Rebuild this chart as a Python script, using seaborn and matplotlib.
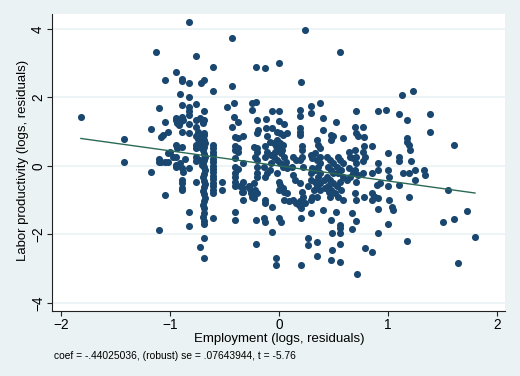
import matplotlib
matplotlib.use("Agg")
from matplotlib import pyplot as plt
import seaborn as sns
import pandas as pd

# regression summary printed under the plot
coef = -0.44025036
se = 0.07643944
tstat = -5.76

band_far_left = [(-1.82, 1.42), (-1.42, 0.80), (-1.42, 0.10), (-1.18, 1.08), (-1.18, -0.17),
                 (-1.13, 3.32), (-1.10, 1.69), (-1.10, -1.87), (-1.10, 0.19), (-1.08, 0.12),
                 (-1.05, 0.12), (-1.02, 0.12), (-1.10, 0.10), (-1.05, 2.50), (-1.05, 1.27),
                 (-1.07, 0.91), (-1.08, 0.84), (-1.05, -0.85), (-1.02, 1.00), (-1.02, 0.37)]

band_minus_one = [(-0.95, 2.73), (-0.89, 2.55), (-0.89, 2.48), (-0.91, 2.09), (-0.89, 1.78),
                  (-0.95, 1.41), (-0.89, 1.44), (-0.95, 1.34), (-0.91, 1.29), (-0.88, 1.34),
                  (-0.94, 1.24), (-0.95, 0.61), (-0.94, 0.52), (-1.00, 0.42), (-0.97, 0.27),
                  (-0.95, 0.27), (-0.95, 0.03), (-0.91, 0.08), (-0.89, -0.07), (-0.88, -0.17),
                  (-0.95, -0.02), (-0.89, 0.56), (-0.89, 1.00), (-0.89, -0.41), (-0.89, -0.51),
                  (-0.89, -0.65), (-0.89, -0.70), (-0.83, 2.42), (-0.83, 2.00), (-0.83, 1.73),
                  (-0.83, 1.59), (-0.83, 1.49), (-0.83, 1.23), (-0.83, 0.96), (-0.83, -0.07),
                  (-0.83, -1.34), (-0.83, -1.75), (-0.83, 4.20), (-0.92, 1.20), (-0.86, 0.20)]

band_minus_07 = [(-0.76, 3.20), (-0.76, 1.81), (-0.72, 2.42), (-0.69, 2.50), (-0.76, 1.35),
                 (-0.73, 1.40), (-0.71, 1.33), (-0.69, 1.35), (-0.70, 1.25), (-0.76, 1.15),
                 (-0.74, 1.00), (-0.73, 0.91), (-0.76, 0.86), (-0.71, 0.86), (-0.69, 0.91),
                 (-0.73, 0.71), (-0.76, 0.61), (-0.73, 0.56), (-0.70, 0.56), (-0.76, 0.52),
                 (-0.76, 0.27), (-0.73, 0.18), (-0.76, 0.13), (-0.71, 0.03), (-0.76, -0.46),
                 (-0.73, -2.36), (-0.69, -2.11), (-0.69, -2.70), (-0.69, 1.59),
                 (-0.61, 2.89), (-0.61, 2.20), (-0.61, -1.53), (-0.74, 0.78), (-0.72, 0.64)]

# the two stacked columns left of zero
column_069 = [(-0.69, 0.96), (-0.70, 0.86), (-0.69, 0.76), (-0.68, 0.66), (-0.69, 0.56),
              (-0.70, 0.46), (-0.69, 0.36), (-0.68, 0.27), (-0.69, 0.17), (-0.70, 0.07),
              (-0.69, -0.03), (-0.68, -0.13), (-0.69, -0.23), (-0.70, -0.33), (-0.69, -0.43),
              (-0.68, -0.53), (-0.69, -0.63), (-0.70, -0.73), (-0.69, -0.83), (-0.68, -0.93),
              (-0.69, -1.03), (-0.70, -1.14), (-0.69, -1.24), (-0.69, -1.37), (-0.70, -1.50),
              (-0.69, -1.60), (-0.69, -1.70)]
column_061 = [(-0.61, 0.61), (-0.61, 0.51), (-0.61, 0.41), (-0.61, 0.31), (-0.61, 0.21),
              (-0.61, 0.11), (-0.61, 0.01), (-0.61, -0.09), (-0.61, -0.19), (-0.61, -0.29),
              (-0.61, -0.39), (-0.61, -0.49), (-0.61, -0.59), (-0.61, -0.69), (-0.61, -0.80)]

band_minus_04 = [(-0.52, -0.46), (-0.52, -0.70), (-0.48, 1.73), (-0.435, 3.73), (-0.435, 2.34),
                 (-0.435, 1.15), (-0.41, 1.83), (-0.41, 1.44), (-0.38, 1.29), (-0.40, 0.85),
                 (-0.38, 0.81), (-0.40, 0.57), (-0.38, 0.52), (-0.40, 0.47), (-0.38, 0.42),
                 (-0.40, 0.22), (-0.40, -0.02), (-0.40, -0.21), (-0.40, -0.31), (-0.40, -0.46),
                 (-0.40, -0.60), (-0.40, -1.34), (-0.40, -1.58), (-0.33, 0.86), (-0.33, 0.08),
                 (-0.33, -0.46), (-0.33, -0.65), (-0.33, -0.75), (-0.33, -0.99), (-0.36, -0.60),
                 (-0.34, -0.75), (-0.38, -0.10)]

band_minus_02 = [(-0.245, 1.85), (-0.21, 1.88), (-0.21, 2.88), (-0.13, 2.87), (-0.245, 1.64),
                 (-0.20, 1.35), (-0.19, 1.05), (-0.20, 0.96), (-0.23, 0.56), (-0.20, 0.52),
                 (-0.20, 0.42), (-0.22, 0.27), (-0.20, 0.18), (-0.20, -0.02), (-0.20, -0.21),
                 (-0.20, -0.31), (-0.28, -0.60), (-0.26, -0.80), (-0.25, -0.90), (-0.23, -0.95),
                 (-0.22, -0.70), (-0.23, -0.51), (-0.20, -0.80), (-0.21, -1.58), (-0.21, -2.29),
                 (-0.13, -1.00), (-0.13, -1.09), (-0.12, 1.36), (-0.12, 1.10), (-0.11, 0.86),
                 (-0.13, 0.57), (-0.11, 0.42), (-0.13, 0.27), (-0.14, -0.02), (-0.11, -0.21),
                 (-0.13, -0.31), (-0.14, -1.53), (-0.13, -1.63), (-0.06, -1.94), (-0.06, -1.19),
                 (-0.06, 1.60), (-0.24, -0.75), (-0.27, -0.68)]

band_zero = [(0.00, 3.02), (0.00, 1.60), (0.00, 1.30), (0.05, 1.23), (-0.06, 1.10),
             (-0.02, 1.00), (0.01, 0.96), (0.04, 0.91), (0.07, 0.96), (-0.08, 0.71),
             (-0.05, 0.66), (-0.02, 0.76), (0.01, 0.66), (0.04, 0.61), (-0.01, 0.52),
             (-0.04, 0.42), (-0.07, 0.32), (0.02, 0.37), (0.05, 0.27), (-0.05, 0.27),
             (-0.02, 0.18), (0.01, 0.08), (0.04, -0.02), (0.07, -0.07), (-0.07, 0.08),
             (-0.08, -0.12), (-0.02, -0.21), (0.00, -0.46), (0.01, -0.56), (0.04, -0.65),
             (0.05, -0.75), (0.07, -0.80), (0.00, -0.70), (-0.03, -2.70), (-0.03, -2.89),
             (0.00, -1.53), (0.02, -1.63), (0.05, -1.00), (0.09, -1.04), (0.03, 0.47),
             (-0.03, 0.57), (0.06, 0.12)]

band_plus_02 = [(0.205, 2.44), (0.24, 3.97), (0.19, 1.64), (0.19, 1.46), (0.29, 1.74),
                (0.29, 1.54), (0.19, 1.10), (0.19, 1.00), (0.19, 0.91), (0.21, 0.57),
                (0.21, 0.47), (0.21, 0.27), (0.19, 0.18), (0.22, -0.02), (0.13, 0.27),
                (0.16, 0.18), (0.12, -0.02), (0.13, -0.26), (0.15, -0.41), (0.19, -0.51),
                (0.21, -0.75), (0.22, -0.90), (0.21, -1.09), (0.19, -1.04), (0.24, -1.09),
                (0.13, -1.00), (0.16, -1.07), (0.18, -1.14), (0.20, -1.24), (0.20, -1.53),
                (0.20, -2.89), (0.27, -2.12), (0.27, -2.31), (0.29, -1.38), (0.30, -0.07),
                (0.29, -0.21), (0.29, -0.41), (0.27, -0.60), (0.32, -0.70), (0.30, -0.90),
                (0.29, -0.99), (0.29, 0.32), (0.30, 0.22)]

band_plus_04 = [(0.38, 1.85), (0.40, 1.39), (0.40, 1.05), (0.35, 0.76), (0.36, 0.61),
                (0.38, 0.52), (0.33, 0.37), (0.38, 0.27), (0.35, 0.18), (0.38, 0.08),
                (0.36, -0.02), (0.33, -0.12), (0.38, -0.21), (0.36, -0.31), (0.33, -0.46),
                (0.38, -0.51), (0.35, -0.60), (0.38, -0.70), (0.35, -0.90), (0.40, -1.29),
                (0.35, -2.21), (0.35, -2.63), (0.48, 0.91), (0.48, 0.76), (0.50, 0.86),
                (0.44, 0.27), (0.47, 0.18), (0.50, 0.08), (0.45, -0.02), (0.48, -0.12),
                (0.50, -0.21), (0.44, -0.31), (0.47, -0.41), (0.50, -0.51), (0.45, -0.60),
                (0.48, -0.70), (0.51, -0.80), (0.47, -0.90), (0.48, -1.58), (0.49, -1.97),
                (0.49, -2.46), (0.48, -2.75), (0.52, 1.27), (0.52, -1.34), (0.42, -0.65),
                (0.46, -0.75), (0.41, -0.40)]

band_plus_06 = [(0.56, 3.32), (0.54, 0.27), (0.56, 0.18), (0.59, 0.08), (0.53, -0.02),
                (0.57, -0.12), (0.54, -0.21), (0.59, -0.31), (0.56, -0.46), (0.53, -0.60),
                (0.57, -0.70), (0.54, -0.90), (0.59, -0.99), (0.56, -1.73), (0.56, -1.82),
                (0.56, -1.97), (0.56, -2.29), (0.56, -2.81), (0.59, 0.81), (0.64, 0.42),
                (0.65, 0.27), (0.68, 0.22), (0.64, -0.07), (0.65, -0.31), (0.68, -0.21),
                (0.67, -1.38), (0.67, -1.85), (0.71, 1.60), (0.70, 1.15), (0.71, 0.96),
                (0.73, 0.86), (0.70, 0.47), (0.71, 0.27), (0.71, 0.08), (0.70, -0.12),
                (0.73, -0.26), (0.71, -0.46), (0.70, -0.80), (0.71, -1.00), (0.71, -1.60),
                (0.72, -3.16), (0.62, -0.40)]

band_plus_08 = [(0.77, 1.15), (0.78, 0.84), (0.78, 0.57), (0.77, 0.42), (0.79, 0.27),
                (0.77, 0.13), (0.77, -0.21), (0.78, -0.90), (0.79, -2.41), (0.85, 0.57),
                (0.85, -0.21), (0.85, -0.80), (0.87, -0.90), (0.85, -1.00), (0.88, -0.90),
                (0.85, -2.51), (0.91, 1.60), (0.91, 0.08), (0.91, -0.12), (0.93, -0.51),
                (0.90, -0.56), (0.91, -0.95), (0.91, -1.27), (0.91, -1.95)]

band_plus_1 = [(0.98, 1.62), (1.00, 0.37), (1.00, -0.12), (1.01, -0.31), (1.00, -0.60),
               (1.01, -1.01), (1.04, -1.19), (1.05, -1.29), (1.00, -1.71), (1.10, 1.53),
               (1.10, 0.27), (1.10, 0.13), (1.10, -0.56), (1.13, 2.07), (1.14, -0.21),
               (1.18, 1.34), (1.18, 0.81), (1.18, 0.71), (1.19, 0.61), (1.20, 0.47),
               (1.19, -0.21), (1.19, -0.90), (1.18, -2.19), (1.23, 2.20), (1.21, 0.13),
               (1.25, -0.12), (1.25, -0.41)]

band_far_right = [(1.33, -0.12), (1.34, -0.26), (1.39, 1.53), (1.39, 0.98), (1.51, -1.65),
                  (1.55, -0.71), (1.61, 0.60), (1.61, -1.54), (1.64, -2.83), (1.73, -1.31),
                  (1.80, -2.09)]

bands = [band_far_left, band_minus_one, band_minus_07, column_069, column_061, band_minus_04,
         band_minus_02, band_zero, band_plus_02, band_plus_04, band_plus_06, band_plus_08,
         band_plus_1, band_far_right]
df = pd.DataFrame([p for b in bands for p in b], columns=['emp', 'lp'])

bg = '#eaf2f3'
navy = '#1a476f'
fam = ['Liberation Sans', 'DejaVu Sans']

fig = plt.figure(figsize=(5.2, 3.76), dpi=100, facecolor=bg)
ax = fig.add_axes([0.1, 0.1737, 0.871, 0.7893])
ax.set_facecolor('white')

sns.scatterplot(data=df, x='emp', y='lp', ax=ax, color=navy, s=26, linewidth=0, zorder=3)

# fitted line over the data range
xs = [df['emp'].min(), df['emp'].max()]
fit = pd.DataFrame({'emp': xs, 'lp': [coef * x for x in xs]})
sns.lineplot(data=fit, x='emp', y='lp', ax=ax, color='#2b6a55', lw=1, zorder=4)

ax.set_xlim(-2.085, 2.075)
ax.set_ylim(-4.23, 4.44)
ax.set_xticks([-2, -1, 0, 1, 2])
ax.set_yticks([-4, -2, 0, 2, 4])
ax.yaxis.grid(True, color=bg, lw=1.2)
ax.set_axisbelow(True)

for side in ['top', 'right']:
    ax.spines[side].set_visible(False)
for side in ['left', 'bottom']:
    ax.spines[side].set_color('#222222')
    ax.spines[side].set_linewidth(0.8)

ax.tick_params(length=3.5, width=0.8, color='#222222', labelsize=9.8, pad=1.5)
for lab in ax.get_xticklabels():
    lab.set_family(fam)
for lab in ax.get_yticklabels():
    lab.set_family(fam)
    lab.set_rotation(90)
    lab.set_va('center')

ax.set_xlabel('Employment (logs, residuals)', fontsize=9.5, family=fam)
ax.set_ylabel('Labor productivity (logs, residuals)', fontsize=9.5, family=fam)
ax.xaxis.set_label_coords(0.501, -0.095)
ax.xaxis.label.set_va('center')
ax.yaxis.set_label_coords(-0.064, 0.505)
ax.yaxis.label.set_va('center')

fig.text(0.104, 0.0532,
         'coef = %s, (robust) se = %s, t = %.2f' % (('%.8f' % coef).replace('0.', '.'),
                                                     ('%.8f' % se).replace('0.', '.'), tstat),
         fontsize=7.4, family=fam, va='center', ha='left')

plt.savefig('out.png', dpi=100, facecolor=bg)
